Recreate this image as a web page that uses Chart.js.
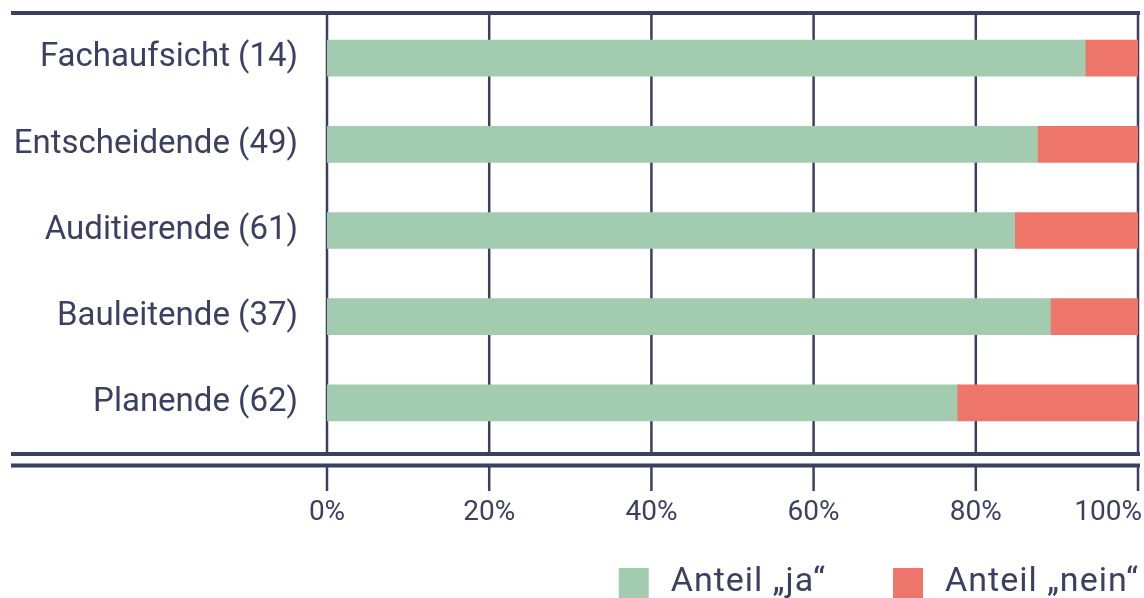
<!DOCTYPE html>
<html>
<head>
<meta charset="utf-8">
<script src="https://cdn.jsdelivr.net/npm/chart.js@4.4.1/dist/chart.umd.min.js"></script>
<style>
  html, body { margin: 0; padding: 0; background: #ffffff; }
  #wrap { width: 1144px; height: 598px; position: relative; }
</style>
</head>
<body>
<div id="wrap"><canvas id="c" width="1144" height="598"></canvas></div>
<script>
const categories = ['Fachaufsicht (14)', 'Entscheidende (49)', 'Auditierende (61)', 'Bauleitende (37)', 'Planende (62)'];
const jaValues = [93.5, 87.6, 84.8, 89.2, 77.7];
const neinValues = [6.5, 12.4, 15.2, 10.8, 22.3];
const seriesLabels = ['Anteil \u201Eja\u201C', 'Anteil \u201Enein\u201C'];
const xTickValues = [0, 20, 40, 60, 80, 100];
const xTickLabels = ['0%', '20%', '40%', '60%', '80%', '100%'];

const NAVY = '#3b3f62';
const GREEN = '#a3cbaf';
const RED = '#ee7569';
const FONT = 'Roboto, "Liberation Sans", sans-serif';

const decor = {
  id: 'decor',
  beforeDatasetsDraw(chart) {
    const ctx = chart.ctx;
    const xs = chart.scales.x;
    ctx.save();
    ctx.strokeStyle = NAVY;
    ctx.lineWidth = 2.5;
    xTickValues.forEach(v => {
      const x = xs.getPixelForValue(v);
      ctx.beginPath(); ctx.moveTo(x, 12); ctx.lineTo(x, 454); ctx.stroke();
      ctx.beginPath(); ctx.moveTo(x, 466); ctx.lineTo(x, 491); ctx.stroke();
    });
    ctx.lineWidth = 4;
    [13, 454, 465.5].forEach(y => {
      ctx.beginPath(); ctx.moveTo(11, y); ctx.lineTo(1140, y); ctx.stroke();
    });
    ctx.restore();
  },
  afterDraw(chart) {
    const ctx = chart.ctx;
    const xs = chart.scales.x;
    ctx.save();
    ctx.fillStyle = NAVY;
    ctx.font = '28px ' + FONT;
    ctx.textBaseline = 'middle';
    ctx.textAlign = 'center';
    xTickValues.forEach((v, i) => {
      const x = xs.getPixelForValue(v);
      const w = ctx.measureText(xTickLabels[i]).width;
      const cx = Math.min(x, 1142 - w / 2);
      ctx.fillText(xTickLabels[i], cx, 513);
    });
    // legend (right aligned)
    ctx.font = '34px ' + FONT;
    if ('letterSpacing' in ctx) ctx.letterSpacing = '1px';
    ctx.textAlign = 'left';
    const ds = chart.data.datasets;
    let right = 1139;
    const items = [];
    for (let i = ds.length - 1; i >= 0; i--) {
      const tw = ctx.measureText(ds[i].label).width;
      const textX = right - tw;
      const boxX = textX - 22 - 30;
      items.push({ label: ds[i].label, color: ds[i].backgroundColor, textX, boxX });
      right = boxX - 67;
    }
    items.forEach(it => {
      ctx.fillStyle = it.color;
      ctx.fillRect(it.boxX, 568, 30, 30);
      ctx.fillStyle = NAVY;
      ctx.fillText(it.label, it.textX, 582);
    });
    ctx.restore();
  }
};

new Chart(document.getElementById('c'), {
  type: 'bar',
  data: {
    labels: categories,
    datasets: [
      { label: seriesLabels[0], data: jaValues, backgroundColor: GREEN, barThickness: 36 },
      { label: seriesLabels[1], data: neinValues, backgroundColor: RED, barThickness: 36 }
    ]
  },
  options: {
    indexAxis: 'y',
    responsive: false,
    animation: false,
    devicePixelRatio: 1,
    layout: { padding: { top: 15, right: 6, left: 0, bottom: 0 } },
    plugins: { legend: { display: false }, tooltip: { enabled: false } },
    scales: {
      x: {
        stacked: true,
        min: 0, max: 100,
        ticks: { display: false, stepSize: 20 },
        grid: { display: false, drawTicks: false },
        border: { display: false },
        afterFit(scale) { scale.height = 152; scale.paddingLeft = 0; scale.paddingRight = 0; }
      },
      y: {
        stacked: true,
        ticks: { color: NAVY, font: { family: FONT, size: 33 }, padding: 29 },
        grid: { display: false, drawTicks: false },
        border: { display: false },
        afterFit(scale) { scale.width = 327; scale.paddingTop = 0; scale.paddingBottom = 0; }
      }
    }
  },
  plugins: [decor]
});
</script>
</body>
</html>
